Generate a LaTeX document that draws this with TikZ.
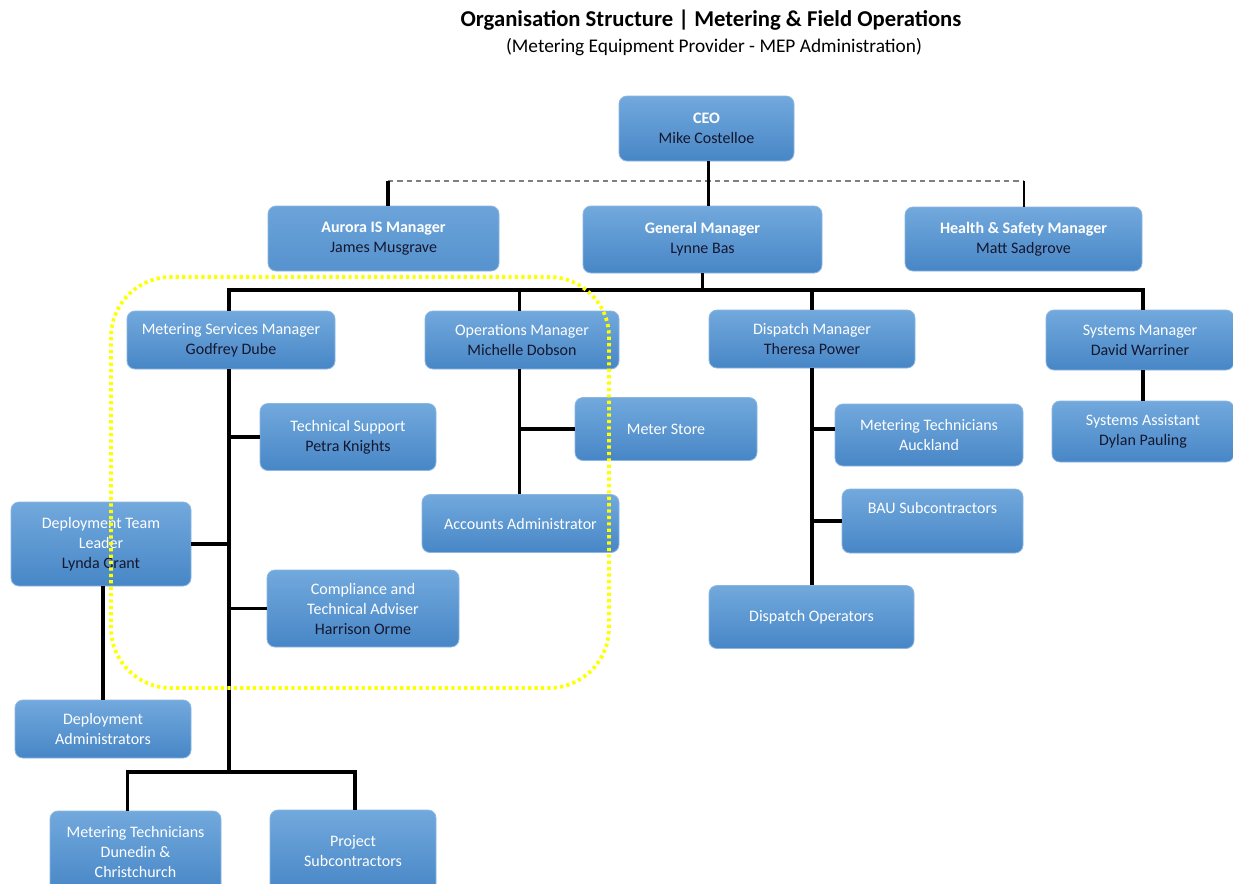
\documentclass[tikz,border=0pt]{standalone}
\usepackage{fontspec}
\setmainfont{Carlito}
\definecolor{boxtop}{HTML}{72A9DD}
\definecolor{boxbot}{HTML}{4786C6}
\definecolor{boxline}{HTML}{8DB6E2}
\definecolor{namecol}{HTML}{15172E}
\definecolor{dashcol}{HTML}{7F7F7F}
\definecolor{hilite}{HTML}{FFFF00}
\tikzset{
  x=0.75pt, y=-0.75pt,
  box/.style={rounded corners=6pt, top color=boxtop, bottom color=boxbot, draw=boxline, line width=0.6pt,
    text=white, align=center, inner sep=0pt, font=\fontsize{12}{15}\selectfont},
  flatbox/.style={box, top color=boxtop!85!boxbot, bottom color=boxtop!35!boxbot},
  sz/.style 2 args={minimum width=#1*0.75pt, minimum height=#2*0.75pt},
  conn/.style={line width=2.4pt, black},
  thinconn/.style={line width=1.1pt, black},
  dashconn/.style={line width=1.1pt, dashcol, dash pattern=on 4pt off 3pt},
  hiliteline/.style={hilite, line width=2.8pt, dash pattern=on 2.4pt off 2.4pt, rounded corners=45pt}
}
\newcommand{\nm}[1]{\textcolor{namecol}{#1}}
\begin{document}
\begin{tikzpicture}
\clip (0,0) rectangle (1233,883);
\fill[white] (0,0) rectangle (1233,883);

% title
\node[font=\fontsize{17}{20}\selectfont\bfseries, inner sep=0pt] (title) at (711,20) {Organisation Structure | Metering \& Field Operations};
\node[font=\fontsize{14.5}{17}\selectfont, inner sep=0pt] (subtitle) at (714,47) {(Metering Equipment Provider - MEP Administration)};

% boxes
\node[box, sz={175}{65}] (ceo) at (706.5,128.5) {\textbf{CEO}\\\nm{Mike Costelloe}};
\node[flatbox, sz={231}{65}] (aurora) at (383.5,238.5) {\textbf{Aurora IS Manager}\\\nm{James Musgrave}};
\node[box, sz={239}{67}] (gm) at (702.5,239.5) {\textbf{General Manager}\\\nm{Lynne Bas}};
\node[box, sz={237}{64}] (hs) at (1023.5,239) {\textbf{Health \& Safety Manager}\\\nm{Matt Sadgrove}};

\node[box, sz={208}{58}] (msm) at (231,340) {Metering Services Manager\\\nm{Godfrey Dube}};
\node[box, sz={194}{58}] (ops) at (522,340) {Operations Manager\\\nm{Michelle Dobson}};
\node[box, sz={206}{58}] (disp) at (812,339) {Dispatch Manager\\\nm{Theresa Power}};
\node[box, sz={188}{60}] (sysm) at (1140,340) {Systems Manager\\\nm{David Warriner}};
\node[box, sz={182}{61}] (sysa) at (1143,431.5) {Systems Assistant\\\nm{Dylan Pauling}};

\node[box, sz={176}{67}] (tech) at (348,437) {Technical Support\\\nm{Petra Knights}};
\node[box, sz={182}{63}] (store) at (666,429) {Meter Store};
\node[box, sz={188}{62}] (akl) at (929,435) {Metering Technicians\\Auckland};
\node[box, sz={181}{64}] (bau) at (932.5,521) {BAU Subcontractors\\\strut};
\node[box, sz={197}{58}] (acc) at (520.5,523.5) {Accounts Administrator};
\node[box, sz={180}{84}] (dtl) at (101,544) {Deployment Team\\Leader\\\nm{Lynda Grant}};
\node[box, sz={192}{77}] (comp) at (363,608.5) {Compliance and\\Technical Adviser\\\nm{Harrison Orme}};
\node[box, sz={205}{63}] (dops) at (811.5,617) {Dispatch Operators};
\node[box, sz={176}{58}] (dadm) at (103,729) {Deployment\\Administrators};
\node[box, sz={171}{82}] (mtdc) at (135.5,852) {Metering Technicians\\Dunedin \&\\Christchurch};
\node[box, sz={166}{82}] (proj) at (353,851) {Project\\Subcontractors};

% top connectors
\coordinate (dl) at (388,181);
\coordinate (dr) at (1024,181);
\coordinate (bus) at (0,290);
\coordinate (low) at (0,772);
\draw[dashconn] (dl) -- (dr);
\draw[conn] (dl) -- (dl |- aurora.north);
\draw[thinconn] (dr) -- (dr |- hs.north);
\draw[conn] ([xshift=1.5pt]ceo.south) -- ([xshift=1.5pt]ceo.south |- gm.north);
\draw[conn] (gm.south) -- (gm.south |- bus);
\draw[conn] ([xshift=-1.5pt]msm.north) -- ([xshift=-1.5pt]msm.north |- bus) -- (sysa.north |- bus) -- (sysa.north |- sysm.north);
\draw[conn] ([xshift=-2pt]ops.north) -- ([xshift=-2pt]ops.north |- bus);
\draw[conn] (disp.north) -- (disp.north |- bus);

% metering services
\draw[conn] ([xshift=-1.5pt]msm.south) -- ([xshift=-1.5pt]msm.south |- low);
\draw[conn] ([xshift=-6pt]mtdc.north) -- ([xshift=-6pt]mtdc.north |- low) -- ([xshift=1.5pt]proj.north |- low) -- ([xshift=1.5pt]proj.north);
\draw[conn] (tech.west) -- ([xshift=-1.5pt]tech.west -| msm.south);
\draw[conn] (dtl.east) -- ([xshift=-1.5pt]dtl.east -| msm.south);
\draw[conn] (comp.west) -- ([xshift=-1.5pt]comp.west -| msm.south);
\draw[conn] ([xshift=1.5pt]dtl.south) -- ([xshift=1.5pt]dtl.south |- dadm.north);

% operations
\draw[conn] ([xshift=-2pt]ops.south) -- ([xshift=-2pt]ops.south |- acc.north);
\draw[conn] (store.west) -- ([xshift=-2pt]store.west -| ops.south);

% dispatch
\draw[conn] (disp.south) -- (disp.south |- dops.north);
\draw[conn] ([yshift=4.5pt]akl.west) -- ([yshift=4.5pt]akl.west -| disp.south);
\draw[conn] (bau.west) -- (bau.west -| disp.south);

% systems
\draw[conn] (sysa.north |- sysm.south) -- (sysa.north);

% highlight
\draw[hiliteline] (111,277) rectangle (609,688);
\end{tikzpicture}
\end{document}
